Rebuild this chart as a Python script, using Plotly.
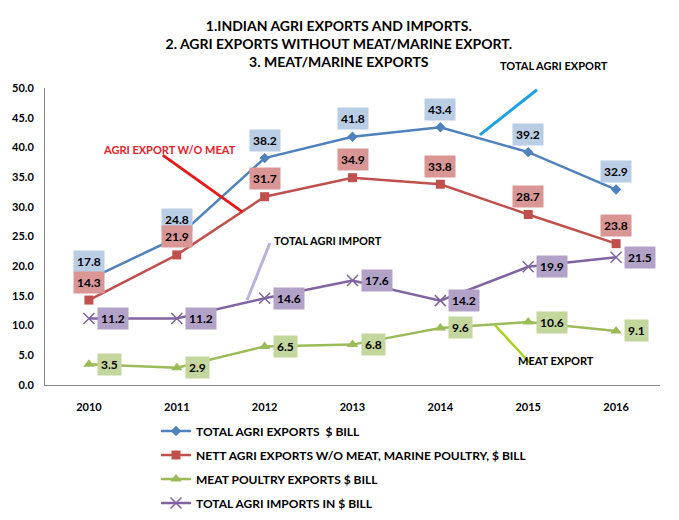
import plotly.graph_objects as go

years = [2010, 2011, 2012, 2013, 2014, 2015, 2016]
total_exports = [17.8, 24.8, 38.2, 41.8, 43.4, 39.2, 32.9]
nett_exports = [14.3, 21.9, 31.7, 34.9, 33.8, 28.7, 23.8]
meat_exports = [3.5, 2.9, 6.5, 6.8, 9.6, 10.6, 9.1]
total_imports = [11.2, 11.2, 14.6, 17.6, 14.2, 19.9, 21.5]

FONT = "Lato"

series = [
    # name, values, colour, label fill, marker, label side
    ("TOTAL AGRI EXPORTS&nbsp;&nbsp;$ BILL", total_exports, "#4F81BD", "#B9CDE5",
     dict(symbol="diamond", size=8), "above"),
    ("NETT AGRI EXPORTS W/O MEAT, MARINE POULTRY, $ BILL", nett_exports, "#C0504D", "#DA9694",
     dict(symbol="square", size=9), "above"),
    ("MEAT POULTRY EXPORTS $ BILL", meat_exports, "#9BBB59", "#C3D69B",
     dict(symbol="triangle-up", size=10), "right"),
    ("TOTAL AGRI IMPORTS IN $ BILL", total_imports, "#8064A2", "#B3A2C7",
     dict(symbol="x-thin", size=11, line=dict(width=1.5, color="#8064A2")), "right"),
]

fig = go.Figure()
annotations = []
for i, (name, vals, col, fill, mk, side) in enumerate(series):
    fig.add_trace(go.Scatter(
        x=years, y=vals, name=name, mode="lines+markers",
        line=dict(color=col, width=2.5),
        marker=dict(color=col, **mk),
        legendgroup=f"g{i}",
    ))
    for x, v in zip(years, vals):
        a = dict(x=x, y=v, xref="x", yref="y", text=f"{v:.1f}", showarrow=False,
                 bgcolor=fill, borderpad=3,
                 font=dict(family=FONT, size=12, color="black", weight="bold"))
        if side == "above":
            a.update(yshift=18)
        else:
            a.update(xanchor="left", xshift=8)
        annotations.append(a)

# callout texts
callouts = [
    ("TOTAL AGRI EXPORT", 0.828, 1.077, "paper", "black"),
    ("AGRI EXPORT W/O MEAT", 2010.92, 39.7, "y", "#E8202A"),
    ("TOTAL AGRI IMPORT", 2012.72, 24.4, "y", "black"),
    ("MEAT EXPORT", 2015.32, 4.2, "y", "black"),
]
for txt, x, y, ref, col in callouts:
    annotations.append(dict(x=x, y=y, xref="paper" if ref == "paper" else "x", yref=ref,
                            xanchor="center", yanchor="middle",
                            text=txt, showarrow=False,
                            font=dict(family=FONT, size=11, color=col, weight="bold")))

callout_lines = [
    (2015.10, 49.7, 2014.45, 42.1, "#1BA1E2", 3),
    (2010.84, 38.7, 2011.75, 29.1, "#E31A1C", 3),
    (2012.06, 23.9, 2011.80, 14.3, "#BDB0DC", 3),
    (2014.62, 10.1, 2015.02, 3.7, "#A6D21E", 2.5),
]
shapes = [dict(type="line", xref="x", yref="y", x0=a, y0=b, x1=c, y1=d,
               line=dict(color=col, width=w)) for a, b, c, d, col, w in callout_lines]
# chart border (only the right edge falls inside the page)
shapes.append(dict(type="rect", xref="paper", yref="paper", x0=-0.2, x1=1.023,
                   y0=-0.6, y1=1.5, line=dict(color="#8C8C8C", width=1)))

# page body adds ~8px offset, so the figure is 8px smaller than the window
fig.update_layout(
    template="none",
    width=671, height=512,
    margin=dict(l=37, r=19, t=80, b=135, autoexpand=False),
    paper_bgcolor="white", plot_bgcolor="white",
    title=dict(
        text="1.INDIAN AGRI EXPORTS AND IMPORTS.<br>2. AGRI EXPORTS WITHOUT MEAT/MARINE EXPORT.<br>3. MEAT/MARINE EXPORTS",
        x=0.493, xref="container", xanchor="center",
        y=0.955, yref="container", yanchor="top",
        font=dict(family=FONT, size=14, color="black", weight="bold"),
    ),
    xaxis=dict(range=[2009.5, 2016.5], tickvals=years, tickformat="d",
               showgrid=False, zeroline=False, showline=True, linecolor="#868686",
               linewidth=1, ticks="", ticklabelstandoff=12, automargin=False,
               tickfont=dict(family=FONT, size=11, color="black", weight="bold")),
    yaxis=dict(range=[0, 50], dtick=5, tickformat=".1f",
               showgrid=False, zeroline=False, showline=True, linecolor="#868686",
               linewidth=1, ticks="", ticklabelstandoff=8, automargin=False,
               tickfont=dict(family=FONT, size=11, color="black", weight="bold")),
    legend=dict(x=0.1805, xanchor="left", y=-0.106, yanchor="top",
                orientation="v", tracegroupgap=5, itemwidth=30,
                font=dict(family=FONT, size=12, color="black", weight="bold")),
    annotations=annotations,
    shapes=shapes,
)

fig.write_html("out.html")
